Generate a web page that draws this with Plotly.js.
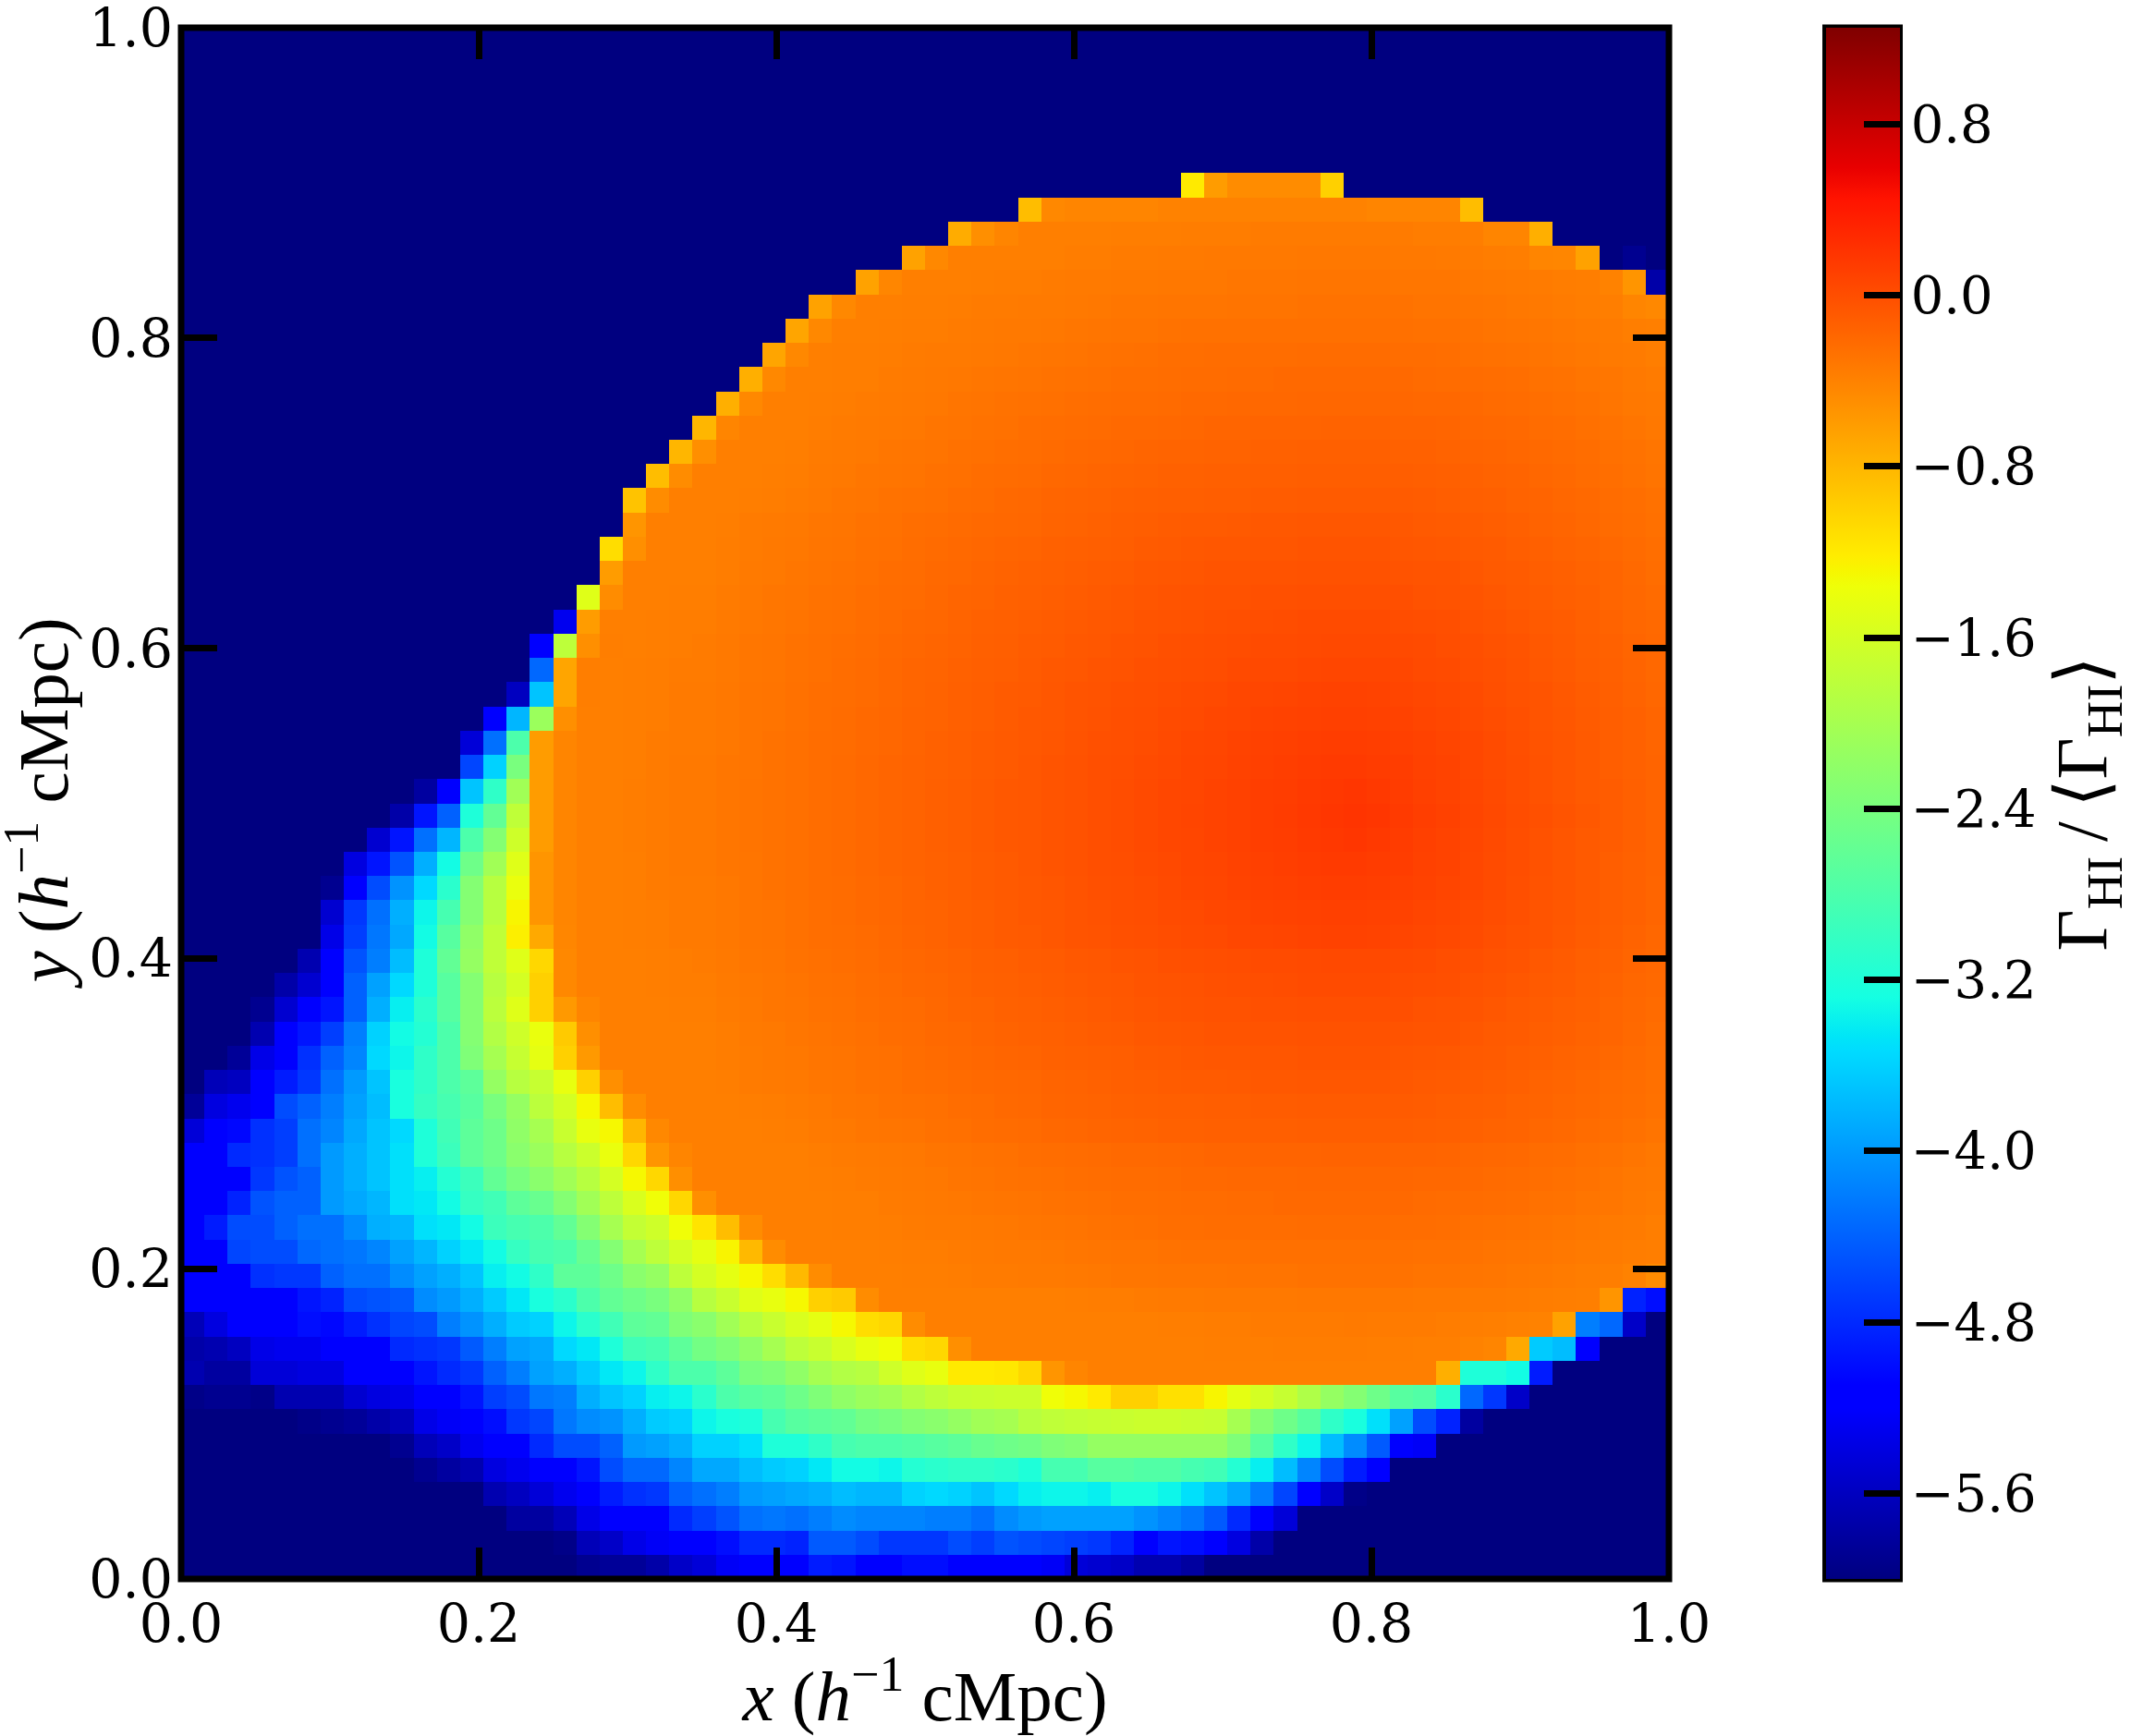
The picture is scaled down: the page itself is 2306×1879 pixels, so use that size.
<!DOCTYPE html>
<html><head><meta charset="utf-8">
<script src="https://cdn.plot.ly/plotly-3.0.1.min.js"></script>
<style>html,body{margin:0;padding:0;background:#fff}</style></head>
<body><div id="chart" style="width:2306px;height:1879px"></div>
<script>
// Gamma values per cell, top row first, left cell first. -6 marks the darkest blue background.
const rowsFromTop = [
[-6,-6,-6,-6,-6,-6,-6,-6,-6,-6,-6,-6,-6,-6,-6,-6,-6,-6,-6,-6,-6,-6,-6,-6,-6,-6,-6,-6,-6,-6,-6,-6,-6,-6,-6,-6,-6,-6,-6,-6,-6,-6,-6,-6,-6,-6,-6,-6,-6,-6,-6,-6,-6,-6,-6,-6,-6,-6,-6,-6,-6,-6,-6,-6],
[-6,-6,-6,-6,-6,-6,-6,-6,-6,-6,-6,-6,-6,-6,-6,-6,-6,-6,-6,-6,-6,-6,-6,-6,-6,-6,-6,-6,-6,-6,-6,-6,-6,-6,-6,-6,-6,-6,-6,-6,-6,-6,-6,-6,-6,-6,-6,-6,-6,-6,-6,-6,-6,-6,-6,-6,-6,-6,-6,-6,-6,-6,-6,-6],
[-6,-6,-6,-6,-6,-6,-6,-6,-6,-6,-6,-6,-6,-6,-6,-6,-6,-6,-6,-6,-6,-6,-6,-6,-6,-6,-6,-6,-6,-6,-6,-6,-6,-6,-6,-6,-6,-6,-6,-6,-6,-6,-6,-6,-6,-6,-6,-6,-6,-6,-6,-6,-6,-6,-6,-6,-6,-6,-6,-6,-6,-6,-6,-6],
[-6,-6,-6,-6,-6,-6,-6,-6,-6,-6,-6,-6,-6,-6,-6,-6,-6,-6,-6,-6,-6,-6,-6,-6,-6,-6,-6,-6,-6,-6,-6,-6,-6,-6,-6,-6,-6,-6,-6,-6,-6,-6,-6,-6,-6,-6,-6,-6,-6,-6,-6,-6,-6,-6,-6,-6,-6,-6,-6,-6,-6,-6,-6,-6],
[-6,-6,-6,-6,-6,-6,-6,-6,-6,-6,-6,-6,-6,-6,-6,-6,-6,-6,-6,-6,-6,-6,-6,-6,-6,-6,-6,-6,-6,-6,-6,-6,-6,-6,-6,-6,-6,-6,-6,-6,-6,-6,-6,-6,-6,-6,-6,-6,-6,-6,-6,-6,-6,-6,-6,-6,-6,-6,-6,-6,-6,-6,-6,-6],
[-6,-6,-6,-6,-6,-6,-6,-6,-6,-6,-6,-6,-6,-6,-6,-6,-6,-6,-6,-6,-6,-6,-6,-6,-6,-6,-6,-6,-6,-6,-6,-6,-6,-6,-6,-6,-6,-6,-6,-6,-6,-6,-6,-6,-6,-6,-6,-6,-6,-6,-6,-6,-6,-6,-6,-6,-6,-6,-6,-6,-6,-6,-6,-6],
[-6,-6,-6,-6,-6,-6,-6,-6,-6,-6,-6,-6,-6,-6,-6,-6,-6,-6,-6,-6,-6,-6,-6,-6,-6,-6,-6,-6,-6,-6,-6,-6,-6,-6,-6,-6,-6,-6,-6,-6,-6,-6,-6,-1.2,-.6,-.48,-.48,-.48,-.48,-1,-6,-6,-6,-6,-6,-6,-6,-6,-6,-6,-6,-6,-6,-6],
[-6,-6,-6,-6,-6,-6,-6,-6,-6,-6,-6,-6,-6,-6,-6,-6,-6,-6,-6,-6,-6,-6,-6,-6,-6,-6,-6,-6,-6,-6,-6,-6,-6,-6,-6,-6,-.85,-.45,-.42,-.42,-.42,-.42,-.4,-.4,-.4,-.4,-.4,-.4,-.4,-.4,-.4,-.42,-.42,-.42,-.42,-.85,-6,-6,-6,-6,-6,-6,-6,-6],
[-6,-6,-6,-6,-6,-6,-6,-6,-6,-6,-6,-6,-6,-6,-6,-6,-6,-6,-6,-6,-6,-6,-6,-6,-6,-6,-6,-6,-6,-6,-6,-6,-6,-.72,-.5,-.42,-.38,-.38,-.38,-.38,-.37,-.37,-.37,-.36,-.36,-.36,-.35,-.35,-.35,-.35,-.35,-.35,-.35,-.36,-.36,-.37,-.42,-.42,-.75,-6,-6,-6,-6,-6],
[-6,-6,-6,-6,-6,-6,-6,-6,-6,-6,-6,-6,-6,-6,-6,-6,-6,-6,-6,-6,-6,-6,-6,-6,-6,-6,-6,-6,-6,-6,-6,-.65,-.45,-.38,-.38,-.38,-.38,-.38,-.36,-.36,-.35,-.35,-.34,-.34,-.33,-.33,-.33,-.33,-.32,-.32,-.32,-.32,-.33,-.33,-.34,-.35,-.36,-.37,-.42,-.43,-.65,-6,-5.9,-6],
[-6,-6,-6,-6,-6,-6,-6,-6,-6,-6,-6,-6,-6,-6,-6,-6,-6,-6,-6,-6,-6,-6,-6,-6,-6,-6,-6,-6,-6,-.65,-.43,-.38,-.38,-.38,-.37,-.36,-.36,-.35,-.34,-.34,-.33,-.33,-.32,-.32,-.32,-.31,-.31,-.31,-.3,-.3,-.3,-.3,-.31,-.31,-.31,-.32,-.33,-.34,-.35,-.36,-.37,-.4,-.55,-5.75],
[-6,-6,-6,-6,-6,-6,-6,-6,-6,-6,-6,-6,-6,-6,-6,-6,-6,-6,-6,-6,-6,-6,-6,-6,-6,-6,-6,-.65,-.45,-.38,-.38,-.37,-.37,-.36,-.35,-.35,-.34,-.34,-.33,-.32,-.31,-.31,-.3,-.3,-.3,-.29,-.29,-.29,-.28,-.28,-.28,-.28,-.28,-.29,-.29,-.3,-.31,-.32,-.33,-.35,-.36,-.37,-.42,-.45],
[-6,-6,-6,-6,-6,-6,-6,-6,-6,-6,-6,-6,-6,-6,-6,-6,-6,-6,-6,-6,-6,-6,-6,-6,-6,-6,-.67,-.45,-.38,-.38,-.37,-.36,-.36,-.35,-.34,-.33,-.33,-.32,-.31,-.3,-.29,-.29,-.28,-.27,-.27,-.27,-.26,-.26,-.26,-.26,-.26,-.26,-.26,-.27,-.27,-.28,-.29,-.3,-.31,-.32,-.34,-.35,-.37,-.38],
[-6,-6,-6,-6,-6,-6,-6,-6,-6,-6,-6,-6,-6,-6,-6,-6,-6,-6,-6,-6,-6,-6,-6,-6,-6,-.67,-.45,-.38,-.37,-.37,-.36,-.35,-.34,-.34,-.33,-.32,-.31,-.3,-.29,-.28,-.27,-.26,-.25,-.25,-.24,-.24,-.24,-.24,-.23,-.23,-.23,-.23,-.24,-.24,-.25,-.26,-.27,-.28,-.29,-.31,-.32,-.34,-.35,-.37],
[-6,-6,-6,-6,-6,-6,-6,-6,-6,-6,-6,-6,-6,-6,-6,-6,-6,-6,-6,-6,-6,-6,-6,-6,-.75,-.45,-.38,-.38,-.37,-.37,-.35,-.34,-.33,-.32,-.31,-.3,-.29,-.28,-.27,-.26,-.25,-.25,-.24,-.23,-.23,-.22,-.22,-.21,-.21,-.21,-.21,-.21,-.21,-.22,-.23,-.23,-.24,-.25,-.27,-.28,-.3,-.31,-.33,-.35],
[-6,-6,-6,-6,-6,-6,-6,-6,-6,-6,-6,-6,-6,-6,-6,-6,-6,-6,-6,-6,-6,-6,-6,-.75,-.45,-.38,-.38,-.37,-.36,-.35,-.34,-.33,-.32,-.3,-.29,-.28,-.27,-.26,-.25,-.24,-.23,-.23,-.22,-.21,-.21,-.2,-.2,-.2,-.19,-.19,-.19,-.19,-.19,-.2,-.2,-.21,-.22,-.23,-.25,-.26,-.28,-.3,-.32,-.33],
[-6,-6,-6,-6,-6,-6,-6,-6,-6,-6,-6,-6,-6,-6,-6,-6,-6,-6,-6,-6,-6,-6,-.8,-.42,-.38,-.38,-.38,-.36,-.35,-.34,-.33,-.32,-.3,-.29,-.28,-.27,-.25,-.24,-.23,-.22,-.21,-.21,-.2,-.19,-.18,-.18,-.17,-.17,-.17,-.16,-.16,-.16,-.17,-.17,-.18,-.19,-.2,-.21,-.23,-.24,-.26,-.28,-.3,-.32],
[-6,-6,-6,-6,-6,-6,-6,-6,-6,-6,-6,-6,-6,-6,-6,-6,-6,-6,-6,-6,-6,-.8,-.5,-.38,-.38,-.38,-.37,-.35,-.34,-.33,-.31,-.3,-.29,-.27,-.26,-.25,-.24,-.22,-.21,-.2,-.19,-.18,-.17,-.17,-.16,-.16,-.15,-.15,-.14,-.14,-.14,-.14,-.15,-.15,-.16,-.17,-.18,-.19,-.21,-.22,-.24,-.26,-.28,-.3],
[-6,-6,-6,-6,-6,-6,-6,-6,-6,-6,-6,-6,-6,-6,-6,-6,-6,-6,-6,-6,-.85,-.48,-.38,-.38,-.38,-.37,-.36,-.34,-.33,-.31,-.3,-.29,-.27,-.26,-.24,-.23,-.22,-.2,-.19,-.18,-.17,-.16,-.15,-.15,-.14,-.14,-.13,-.13,-.12,-.12,-.12,-.12,-.12,-.13,-.14,-.15,-.16,-.17,-.19,-.21,-.23,-.25,-.27,-.29],
[-6,-6,-6,-6,-6,-6,-6,-6,-6,-6,-6,-6,-6,-6,-6,-6,-6,-6,-6,-.9,-.48,-.38,-.38,-.38,-.37,-.36,-.35,-.33,-.31,-.3,-.28,-.27,-.26,-.24,-.23,-.21,-.2,-.18,-.17,-.16,-.15,-.14,-.13,-.13,-.12,-.12,-.11,-.11,-.1,-.1,-.1,-.1,-.1,-.11,-.12,-.13,-.14,-.16,-.17,-.19,-.21,-.23,-.25,-.27],
[-6,-6,-6,-6,-6,-6,-6,-6,-6,-6,-6,-6,-6,-6,-6,-6,-6,-6,-6,-.55,-.38,-.38,-.38,-.37,-.35,-.34,-.33,-.31,-.3,-.28,-.27,-.25,-.24,-.22,-.21,-.2,-.19,-.17,-.16,-.15,-.13,-.12,-.11,-.1,-.1,-.09,-.08,-.08,-.07,-.07,-.07,-.07,-.08,-.09,-.1,-.11,-.12,-.14,-.16,-.18,-.2,-.22,-.24,-.26],
[-6,-6,-6,-6,-6,-6,-6,-6,-6,-6,-6,-6,-6,-6,-6,-6,-6,-6,-1.1,-.5,-.38,-.38,-.38,-.36,-.35,-.33,-.32,-.3,-.29,-.27,-.26,-.24,-.22,-.21,-.19,-.18,-.17,-.15,-.14,-.13,-.12,-.1,-.09,-.08,-.07,-.07,-.06,-.06,-.05,-.05,-.05,-.05,-.06,-.07,-.08,-.09,-.1,-.12,-.14,-.16,-.18,-.2,-.22,-.25],
[-6,-6,-6,-6,-6,-6,-6,-6,-6,-6,-6,-6,-6,-6,-6,-6,-6,-6,-.6,-.38,-.38,-.38,-.38,-.36,-.34,-.33,-.31,-.29,-.28,-.26,-.24,-.23,-.21,-.2,-.18,-.16,-.15,-.14,-.12,-.11,-.1,-.08,-.07,-.06,-.05,-.05,-.04,-.04,-.03,-.03,-.03,-.03,-.04,-.05,-.05,-.07,-.09,-.1,-.12,-.14,-.16,-.18,-.21,-.24],
[-6,-6,-6,-6,-6,-6,-6,-6,-6,-6,-6,-6,-6,-6,-6,-6,-6,-1.5,-.48,-.38,-.38,-.37,-.37,-.35,-.33,-.31,-.3,-.28,-.27,-.25,-.23,-.22,-.2,-.18,-.17,-.15,-.14,-.12,-.11,-.09,-.08,-.06,-.05,-.04,-.03,-.03,-.02,-.02,-.01,-.01,-.01,-.01,-.01,-.03,-.04,-.05,-.07,-.09,-.11,-.13,-.15,-.18,-.2,-.22],
[-6,-6,-6,-6,-6,-6,-6,-6,-6,-6,-6,-6,-6,-6,-6,-6,-5.3,-.6,-.38,-.38,-.37,-.36,-.36,-.34,-.32,-.31,-.29,-.27,-.26,-.24,-.22,-.2,-.19,-.17,-.15,-.14,-.12,-.11,-.09,-.08,-.07,-.05,-.04,-.03,-.02,-.01,0,.01,.02,.02,.02,.02,.01,0,-.01,-.03,-.05,-.07,-.09,-.11,-.14,-.16,-.19,-.21],
[-6,-6,-6,-6,-6,-6,-6,-6,-6,-6,-6,-6,-6,-6,-6,-5.1,-1.8,-.5,-.37,-.38,-.37,-.36,-.35,-.33,-.31,-.3,-.28,-.26,-.25,-.23,-.21,-.19,-.18,-.16,-.14,-.13,-.11,-.1,-.08,-.07,-.05,-.04,-.02,-.01,0,.01,.02,.02,.03,.04,.04,.04,.03,.02,0,-.01,-.03,-.05,-.08,-.1,-.13,-.15,-.18,-.2],
[-6,-6,-6,-6,-6,-6,-6,-6,-6,-6,-6,-6,-6,-6,-6,-4.35,-.67,-.37,-.38,-.37,-.36,-.35,-.35,-.33,-.31,-.3,-.28,-.26,-.24,-.22,-.2,-.18,-.17,-.15,-.13,-.12,-.1,-.08,-.07,-.05,-.04,-.02,-.01,0,.01,.03,.04,.04,.05,.06,.06,.06,.05,.03,.02,0,-.02,-.04,-.07,-.09,-.12,-.14,-.17,-.2],
[-6,-6,-6,-6,-6,-6,-6,-6,-6,-6,-6,-6,-6,-6,-5.6,-3.7,-.67,-.37,-.38,-.37,-.36,-.34,-.34,-.32,-.3,-.29,-.27,-.25,-.24,-.22,-.2,-.18,-.16,-.14,-.12,-.1,-.09,-.07,-.05,-.04,-.02,-.01,.01,.02,.03,.05,.06,.07,.08,.09,.09,.08,.07,.05,.04,.02,-.01,-.03,-.05,-.08,-.11,-.13,-.16,-.19],
[-6,-6,-6,-6,-6,-6,-6,-6,-6,-6,-6,-6,-6,-5.2,-3.8,-2.1,-.5,-.38,-.38,-.37,-.36,-.34,-.34,-.32,-.3,-.29,-.27,-.25,-.23,-.21,-.19,-.17,-.16,-.14,-.12,-.1,-.08,-.07,-.05,-.03,-.01,0,.02,.03,.05,.06,.08,.09,.1,.11,.11,.1,.09,.07,.05,.03,.01,-.02,-.05,-.07,-.1,-.12,-.15,-.18],
[-6,-6,-6,-6,-6,-6,-6,-6,-6,-6,-6,-6,-5.45,-4.3,-2.8,-.6,-.42,-.38,-.38,-.37,-.35,-.34,-.34,-.32,-.3,-.28,-.26,-.24,-.23,-.21,-.19,-.17,-.15,-.13,-.11,-.09,-.08,-.06,-.04,-.02,-.01,.01,.03,.05,.06,.08,.1,.11,.12,.13,.13,.12,.11,.09,.07,.05,.02,-.01,-.04,-.06,-.09,-.12,-.15,-.18],
[-6,-6,-6,-6,-6,-6,-6,-6,-6,-6,-6,-6,-4.6,-3.6,-2.4,-.6,-.42,-.38,-.38,-.37,-.35,-.33,-.33,-.31,-.3,-.28,-.26,-.24,-.22,-.2,-.18,-.16,-.15,-.13,-.11,-.09,-.07,-.05,-.03,-.01,0,.02,.04,.06,.07,.09,.11,.12,.14,.15,.15,.14,.13,.1,.08,.05,.02,0,-.03,-.06,-.09,-.12,-.15,-.17],
[-6,-6,-6,-6,-6,-6,-6,-6,-6,-6,-5.8,-5.1,-3.7,-3.05,-2.05,-.6,-.42,-.38,-.38,-.36,-.35,-.33,-.33,-.31,-.29,-.28,-.26,-.24,-.22,-.2,-.18,-.16,-.14,-.12,-.1,-.08,-.07,-.05,-.03,-.01,.01,.03,.05,.06,.08,.1,.12,.13,.15,.17,.18,.16,.14,.11,.08,.06,.03,0,-.03,-.06,-.09,-.11,-.14,-.17],
[-6,-6,-6,-6,-6,-6,-6,-6,-6,-5.75,-4.95,-4.4,-3.2,-2.6,-1.78,-.6,-.42,-.38,-.38,-.36,-.35,-.33,-.33,-.31,-.29,-.28,-.26,-.24,-.22,-.2,-.18,-.16,-.14,-.12,-.1,-.08,-.07,-.05,-.03,-.01,.01,.03,.05,.07,.08,.1,.12,.14,.16,.18,.2,.18,.15,.12,.1,.07,.04,.01,-.02,-.05,-.08,-.11,-.14,-.17],
[-6,-6,-6,-6,-6,-6,-6,-6,-5.5,-4.95,-4.3,-3.8,-2.8,-2.3,-1.65,-.6,-.42,-.38,-.38,-.36,-.35,-.33,-.33,-.31,-.29,-.28,-.26,-.24,-.22,-.2,-.18,-.16,-.14,-.12,-.1,-.08,-.07,-.05,-.03,-.01,.01,.03,.05,.06,.08,.1,.12,.13,.15,.17,.18,.16,.14,.11,.08,.06,.03,0,-.03,-.06,-.09,-.11,-.14,-.17],
[-6,-6,-6,-6,-6,-6,-6,-5.4,-4.95,-4.5,-3.85,-3.3,-2.5,-2.05,-1.5,-.55,-.42,-.38,-.38,-.37,-.35,-.33,-.33,-.31,-.3,-.28,-.26,-.24,-.22,-.2,-.18,-.16,-.15,-.13,-.11,-.09,-.07,-.05,-.03,-.01,0,.02,.04,.06,.07,.09,.11,.12,.14,.15,.15,.14,.13,.1,.08,.05,.02,0,-.03,-.06,-.09,-.12,-.15,-.17],
[-6,-6,-6,-6,-6,-6,-5.9,-5.1,-4.55,-4.05,-3.55,-3.1,-2.3,-1.85,-1.4,-.55,-.42,-.38,-.38,-.37,-.35,-.34,-.34,-.32,-.3,-.28,-.26,-.24,-.23,-.21,-.19,-.17,-.15,-.13,-.11,-.09,-.08,-.06,-.04,-.02,-.01,.01,.03,.05,.06,.08,.1,.11,.12,.13,.13,.12,.11,.09,.07,.05,.02,-.01,-.04,-.06,-.09,-.12,-.15,-.18],
[-6,-6,-6,-6,-6,-6,-5.5,-4.7,-4.3,-3.85,-3.35,-2.85,-2.3,-1.85,-1.28,-.55,-.42,-.38,-.38,-.37,-.36,-.34,-.34,-.32,-.3,-.29,-.27,-.25,-.23,-.21,-.19,-.17,-.16,-.14,-.12,-.1,-.08,-.07,-.05,-.03,-.01,0,.02,.03,.05,.06,.08,.09,.1,.11,.11,.1,.09,.07,.05,.03,.01,-.02,-.05,-.07,-.1,-.12,-.15,-.18],
[-6,-6,-6,-6,-6,-6,-5.35,-4.65,-4.25,-3.9,-3.3,-2.7,-2.2,-1.78,-1.24,-.7,-.43,-.38,-.38,-.37,-.36,-.34,-.34,-.32,-.3,-.29,-.27,-.25,-.24,-.22,-.2,-.18,-.16,-.14,-.12,-.1,-.09,-.07,-.05,-.04,-.02,-.01,.01,.02,.03,.05,.06,.07,.08,.09,.09,.08,.07,.05,.04,.02,-.01,-.03,-.05,-.08,-.11,-.13,-.16,-.19],
[-6,-6,-6,-6,-6,-5.7,-5.1,-4.5,-4.2,-3.75,-3.2,-2.6,-2.15,-1.78,-1.5,-1.05,-.45,-.38,-.38,-.38,-.37,-.36,-.35,-.33,-.31,-.3,-.28,-.26,-.25,-.23,-.21,-.19,-.18,-.16,-.14,-.13,-.11,-.1,-.08,-.07,-.05,-.04,-.02,-.01,0,.01,.02,.02,.03,.04,.04,.04,.03,.02,0,-.01,-.03,-.05,-.08,-.1,-.13,-.15,-.18,-.2],
[-6,-6,-6,-6,-5.75,-5.5,-5.1,-4.4,-3.95,-3.55,-3.2,-2.7,-2.3,-1.85,-1.6,-1,-.45,-.38,-.38,-.38,-.37,-.36,-.36,-.34,-.32,-.31,-.29,-.27,-.26,-.24,-.22,-.2,-.19,-.17,-.15,-.14,-.12,-.11,-.09,-.08,-.07,-.05,-.04,-.03,-.02,-.01,0,.01,.02,.02,.02,.02,.01,0,-.01,-.03,-.05,-.07,-.09,-.11,-.14,-.16,-.19,-.21],
[-6,-6,-6,-5.9,-5.5,-5.1,-4.95,-4.4,-3.85,-3.4,-3.1,-2.7,-2.3,-1.82,-1.5,-1,-.58,-.42,-.38,-.38,-.38,-.37,-.37,-.35,-.33,-.31,-.3,-.28,-.27,-.25,-.23,-.22,-.2,-.18,-.17,-.15,-.14,-.12,-.11,-.09,-.08,-.06,-.05,-.04,-.03,-.03,-.02,-.02,-.01,-.01,-.01,-.01,-.01,-.03,-.04,-.05,-.07,-.09,-.11,-.13,-.15,-.18,-.2,-.22],
[-6,-6,-6,-5.7,-5.2,-4.95,-4.65,-4.2,-3.6,-3.3,-3.15,-2.8,-2.3,-1.9,-1.65,-1.4,-.95,-.5,-.38,-.38,-.38,-.38,-.38,-.36,-.34,-.33,-.31,-.29,-.28,-.26,-.24,-.23,-.21,-.2,-.18,-.16,-.15,-.14,-.12,-.11,-.1,-.08,-.07,-.06,-.05,-.05,-.04,-.04,-.03,-.03,-.03,-.03,-.04,-.05,-.05,-.07,-.09,-.1,-.12,-.14,-.16,-.18,-.21,-.24],
[-6,-6,-5.85,-5.35,-5.1,-4.75,-4.4,-4.15,-3.55,-3.35,-3.05,-2.8,-2.35,-2,-1.72,-1.45,-1,-.58,-.38,-.38,-.38,-.38,-.38,-.36,-.35,-.33,-.32,-.3,-.29,-.27,-.26,-.24,-.22,-.21,-.19,-.18,-.17,-.15,-.14,-.13,-.12,-.1,-.09,-.08,-.07,-.07,-.06,-.06,-.05,-.05,-.05,-.05,-.06,-.07,-.08,-.09,-.1,-.12,-.14,-.16,-.18,-.2,-.22,-.25],
[-6,-5.65,-5.6,-5.2,-4.9,-4.7,-4.3,-4,-3.7,-3.25,-3.05,-2.8,-2.65,-2.15,-1.85,-1.72,-1.42,-1,-.5,-.38,-.38,-.38,-.38,-.37,-.35,-.34,-.33,-.31,-.3,-.28,-.27,-.25,-.24,-.22,-.21,-.2,-.19,-.17,-.16,-.15,-.13,-.12,-.11,-.1,-.1,-.09,-.08,-.08,-.07,-.07,-.07,-.07,-.08,-.09,-.1,-.11,-.12,-.14,-.16,-.18,-.2,-.22,-.24,-.26],
[-5.85,-5.4,-5.3,-5.1,-4.55,-4.4,-4.2,-3.95,-3.75,-3.25,-3,-2.85,-2.7,-2.4,-2.15,-1.82,-1.6,-1.3,-.85,-.48,-.38,-.38,-.38,-.38,-.37,-.36,-.35,-.33,-.31,-.3,-.28,-.27,-.26,-.24,-.23,-.21,-.2,-.18,-.17,-.16,-.15,-.14,-.13,-.13,-.12,-.12,-.11,-.11,-.1,-.1,-.1,-.1,-.1,-.11,-.12,-.13,-.14,-.16,-.17,-.19,-.21,-.23,-.25,-.27],
[-5.45,-5.15,-5.05,-4.75,-4.65,-4.3,-4.15,-3.9,-3.7,-3.55,-3.2,-2.9,-2.65,-2.5,-2.2,-2,-1.7,-1.42,-1.3,-.8,-.45,-.38,-.38,-.38,-.38,-.37,-.36,-.34,-.33,-.31,-.3,-.29,-.27,-.26,-.24,-.23,-.22,-.2,-.19,-.18,-.17,-.16,-.15,-.15,-.14,-.14,-.13,-.13,-.12,-.12,-.12,-.12,-.12,-.13,-.14,-.15,-.16,-.17,-.19,-.21,-.23,-.25,-.27,-.29],
[-5.2,-5.1,-4.8,-4.75,-4.65,-4.3,-4,-3.85,-3.7,-3.5,-3.2,-2.95,-2.65,-2.5,-2.25,-2.1,-1.85,-1.68,-1.4,-1.05,-.55,-.42,-.38,-.38,-.38,-.38,-.38,-.36,-.35,-.34,-.33,-.32,-.3,-.29,-.28,-.27,-.25,-.24,-.23,-.22,-.21,-.21,-.2,-.19,-.18,-.18,-.17,-.17,-.17,-.16,-.16,-.16,-.17,-.17,-.18,-.19,-.2,-.21,-.23,-.24,-.26,-.28,-.3,-.32],
[-5.1,-5.1,-5.1,-4.7,-4.5,-4.4,-4,-3.85,-3.7,-3.5,-3.4,-3.15,-2.95,-2.6,-2.4,-2.25,-2.05,-1.85,-1.6,-1.3,-1.05,-.5,-.38,-.38,-.38,-.38,-.38,-.37,-.36,-.35,-.34,-.33,-.32,-.3,-.29,-.28,-.27,-.26,-.25,-.24,-.23,-.23,-.22,-.21,-.21,-.2,-.2,-.2,-.19,-.19,-.19,-.19,-.19,-.2,-.2,-.21,-.22,-.23,-.25,-.26,-.28,-.3,-.32,-.33],
[-5.1,-5.1,-4.85,-4.5,-4.4,-4.4,-4,-3.9,-3.8,-3.5,-3.45,-3.3,-3,-2.9,-2.65,-2.55,-2.3,-2.05,-1.8,-1.55,-1.35,-1.05,-.5,-.38,-.38,-.38,-.38,-.38,-.37,-.37,-.35,-.34,-.33,-.32,-.31,-.3,-.29,-.28,-.27,-.26,-.25,-.25,-.24,-.23,-.23,-.22,-.22,-.21,-.21,-.21,-.21,-.21,-.21,-.22,-.23,-.23,-.24,-.25,-.27,-.28,-.3,-.31,-.33,-.35],
[-5.1,-4.9,-4.55,-4.55,-4.4,-4.3,-4.3,-4.1,-3.85,-3.8,-3.5,-3.45,-3.3,-2.95,-2.85,-2.8,-2.6,-2.3,-2,-1.75,-1.65,-1.35,-1.15,-.85,-.48,-.38,-.38,-.38,-.37,-.37,-.36,-.35,-.34,-.34,-.33,-.32,-.31,-.3,-.29,-.28,-.27,-.26,-.25,-.25,-.24,-.24,-.24,-.24,-.23,-.23,-.23,-.23,-.24,-.24,-.25,-.26,-.27,-.28,-.29,-.31,-.32,-.34,-.35,-.37],
[-5.1,-5.1,-4.6,-4.55,-4.55,-4.35,-4.3,-4.25,-4.15,-3.95,-3.8,-3.6,-3.45,-3.3,-3,-2.85,-2.8,-2.55,-2.3,-2,-1.8,-1.6,-1.45,-1.27,-.82,-.48,-.38,-.38,-.38,-.38,-.37,-.36,-.36,-.35,-.34,-.33,-.33,-.32,-.31,-.3,-.29,-.29,-.28,-.27,-.27,-.27,-.26,-.26,-.26,-.26,-.26,-.26,-.26,-.27,-.27,-.28,-.29,-.3,-.31,-.32,-.34,-.35,-.36,-.37],
[-5.1,-5.1,-5.1,-4.75,-4.7,-4.7,-4.4,-4.3,-4.3,-4.1,-3.95,-3.85,-3.7,-3.4,-3.3,-3.05,-2.65,-2.65,-2.5,-2.25,-2.15,-1.8,-1.6,-1.45,-1.3,-1.1,-.82,-.48,-.38,-.38,-.38,-.37,-.37,-.36,-.35,-.35,-.34,-.34,-.33,-.32,-.31,-.31,-.3,-.3,-.3,-.29,-.29,-.29,-.28,-.28,-.28,-.28,-.28,-.29,-.29,-.3,-.31,-.32,-.33,-.35,-.36,-.37,-.4,-.48],
[-5.1,-5.1,-5.1,-5.1,-5.1,-4.95,-4.85,-4.55,-4.5,-4.45,-4.1,-4,-3.85,-3.65,-3.45,-3.25,-3.1,-2.8,-2.6,-2.5,-2.4,-2.2,-1.85,-1.7,-1.5,-1.42,-1.3,-1,-.95,-.48,-.38,-.38,-.38,-.38,-.38,-.38,-.38,-.38,-.37,-.36,-.36,-.35,-.34,-.34,-.33,-.33,-.33,-.33,-.32,-.32,-.32,-.32,-.32,-.33,-.33,-.34,-.34,-.35,-.36,-.37,-.38,-.55,-4.85,-5],
[-5.65,-5.4,-5.2,-5.15,-5.1,-5,-5.05,-4.9,-4.75,-4.6,-4.55,-4.2,-4.05,-3.85,-3.65,-3.6,-3.35,-3.1,-2.9,-2.65,-2.6,-2.35,-2.25,-2.05,-1.85,-1.7,-1.55,-1.45,-1.3,-1.1,-1.05,-.48,-.38,-.38,-.38,-.38,-.38,-.38,-.38,-.38,-.38,-.38,-.37,-.37,-.36,-.36,-.35,-.35,-.35,-.35,-.34,-.35,-.35,-.35,-.36,-.37,-.38,-.39,-.4,-.65,-4.2,-4.35,-5.55,-6],
[-5.75,-5.7,-5.6,-5.35,-5.3,-5.3,-5.1,-5.1,-5.1,-4.8,-4.75,-4.7,-4.45,-4.2,-3.95,-3.9,-3.55,-3.45,-3.2,-2.9,-2.85,-2.65,-2.45,-2.35,-2.2,-2,-1.8,-1.7,-1.55,-1.42,-1.35,-1.1,-1.05,-.5,-.38,-.38,-.38,-.38,-.38,-.38,-.38,-.38,-.38,-.38,-.37,-.37,-.37,-.36,-.36,-.36,-.36,-.37,-.37,-.38,-.38,-.4,-.42,-.7,-3.65,-3.75,-5.15,-6,-6,-6],
[-5.7,-5.8,-5.8,-5.45,-5.45,-5.4,-5.4,-5.1,-5.1,-5.1,-4.95,-4.8,-4.7,-4.4,-4.2,-3.95,-3.85,-3.65,-3.45,-3.35,-3.05,-2.8,-2.8,-2.65,-2.4,-2.35,-2.2,-2,-1.9,-1.85,-1.65,-1.5,-1.42,-1.2,-1.2,-1.18,-1.05,-.55,-.42,-.38,-.38,-.38,-.38,-.38,-.38,-.38,-.38,-.38,-.38,-.38,-.38,-.38,-.38,-.38,-.75,-3.2,-3.2,-3.3,-4.9,-6,-6,-6,-6,-6],
[-5.95,-5.9,-5.9,-5.95,-5.7,-5.7,-5.7,-5.5,-5.4,-5.35,-5.15,-5.1,-4.95,-4.65,-4.55,-4.25,-4.2,-3.85,-3.7,-3.6,-3.4,-3.35,-3.1,-2.8,-2.7,-2.65,-2.5,-2.35,-2.2,-2.1,-2.05,-1.9,-1.8,-1.72,-1.7,-1.68,-1.68,-1.35,-1.3,-1.2,-1,-1,-1.12,-1.12,-1.28,-1.45,-1.6,-1.72,-1.92,-2.15,-2.3,-2.5,-2.7,-2.75,-3.1,-4.35,-4.7,-5.55,-6,-6,-6,-6,-6,-6],
[-6,-6,-6,-6,-6,-5.95,-5.9,-5.85,-5.75,-5.65,-5.35,-5.25,-5.1,-5,-4.7,-4.6,-4.25,-4.1,-4.05,-3.85,-3.65,-3.6,-3.35,-3.25,-3.2,-2.85,-2.7,-2.65,-2.6,-2.45,-2.4,-2.3,-2.25,-2.15,-2.05,-2,-1.85,-1.78,-1.75,-1.72,-1.7,-1.68,-1.68,-1.7,-1.72,-2,-2.3,-2.5,-2.7,-3.05,-3.25,-3.5,-3.95,-4.55,-4.85,-5.8,-6,-6,-6,-6,-6,-6,-6,-6],
[-6,-6,-6,-6,-6,-6,-6,-6,-6,-5.9,-5.65,-5.55,-5.3,-5.15,-5.1,-4.8,-4.55,-4.55,-4.4,-4,-3.95,-3.85,-3.6,-3.6,-3.5,-3.2,-3.2,-3.05,-2.85,-2.8,-2.8,-2.75,-2.7,-2.65,-2.55,-2.5,-2.45,-2.35,-2.3,-2.15,-2.15,-2.15,-2.15,-2.15,-2.15,-2.35,-2.7,-3.05,-3.35,-3.75,-4.1,-4.45,-5.15,-5.25,-6,-6,-6,-6,-6,-6,-6,-6,-6,-6],
[-6,-6,-6,-6,-6,-6,-6,-6,-6,-6,-5.9,-5.8,-5.7,-5.4,-5.3,-5.15,-5.1,-4.95,-4.55,-4.35,-4.35,-4.15,-3.9,-3.9,-3.75,-3.65,-3.6,-3.45,-3.3,-3.3,-3.35,-3.15,-3.1,-3.05,-3.05,-3.1,-3.2,-2.85,-2.85,-2.7,-2.7,-2.75,-2.75,-2.85,-2.9,-3.15,-3.4,-3.75,-4.15,-4.55,-4.9,-5.2,-6,-6,-6,-6,-6,-6,-6,-6,-6,-6,-6,-6],
[-6,-6,-6,-6,-6,-6,-6,-6,-6,-6,-6,-6,-6,-5.7,-5.6,-5.45,-5.3,-5.1,-4.9,-4.75,-4.7,-4.4,-4.3,-4.2,-4,-3.95,-3.9,-3.85,-3.75,-3.8,-3.8,-3.6,-3.55,-3.6,-3.7,-3.55,-3.4,-3.35,-3.35,-3.4,-3.25,-3.25,-3.35,-3.5,-3.7,-3.9,-4.2,-4.6,-5.15,-5.55,-5.95,-6,-6,-6,-6,-6,-6,-6,-6,-6,-6,-6,-6,-6],
[-6,-6,-6,-6,-6,-6,-6,-6,-6,-6,-6,-6,-6,-6,-5.8,-5.8,-5.65,-5.35,-5.2,-5.1,-5.1,-4.8,-4.65,-4.5,-4.3,-4.25,-4.3,-4.2,-4.1,-4.15,-4.15,-4.15,-4.2,-4.2,-4.3,-4.1,-4,-3.95,-3.95,-3.95,-3.95,-4.05,-4.15,-4.25,-4.45,-4.8,-5.15,-5.45,-6,-6,-6,-6,-6,-6,-6,-6,-6,-6,-6,-6,-6,-6,-6,-6],
[-6,-6,-6,-6,-6,-6,-6,-6,-6,-6,-6,-6,-6,-6,-6,-6,-5.95,-5.65,-5.55,-5.35,-5.25,-5.1,-5.1,-5,-4.8,-4.8,-4.85,-4.45,-4.45,-4.55,-4.7,-4.7,-4.7,-4.55,-4.65,-4.5,-4.55,-4.6,-4.65,-4.7,-4.85,-5.1,-4.95,-5,-5.15,-5.4,-5.75,-6,-6,-6,-6,-6,-6,-6,-6,-6,-6,-6,-6,-6,-6,-6,-6,-6],
[-6,-6,-6,-6,-6,-6,-6,-6,-6,-6,-6,-6,-6,-6,-6,-6,-6,-5.9,-5.85,-5.85,-5.75,-5.55,-5.45,-5.25,-5.15,-5.1,-5.1,-4.9,-4.95,-5.1,-5.1,-5,-5,-5.1,-5.1,-5.1,-5.15,-5.25,-5.45,-5.5,-5.55,-5.7,-5.7,-5.8,-6,-6,-6,-6,-6,-6,-6,-6,-6,-6,-6,-6,-6,-6,-6,-6,-6,-6,-6,-6]
];
const axisTicks = [0, 0.2, 0.4, 0.6, 0.8, 1];
const colorbarTicks = [0.8, 0, -0.8, -1.6, -2.4, -3.2, -4, -4.8, -5.6];
const valueMin = -6, valueMax = 1.25;
const jet = [[0,'rgb(0,0,128)'],[0.11,'rgb(0,0,255)'],[0.125,'rgb(0,0,255)'],[0.34,'rgb(0,219,255)'],[0.35,'rgb(0,230,247)'],[0.375,'rgb(21,255,226)'],[0.64,'rgb(239,255,8)'],[0.65,'rgb(247,246,0)'],[0.66,'rgb(255,236,0)'],[0.89,'rgb(255,19,0)'],[0.91,'rgb(232,0,0)'],[1,'rgb(128,0,0)']];
const serif = '"DejaVu Serif", serif';
const mathFont = '"Liberation Serif", "DejaVu Serif", serif';

const trace = {
  type:'heatmap', z: rowsFromTop.slice().reverse(),
  x0: 0.5/64, dx: 1/64, y0: 0.5/64, dy: 1/64,
  zmin: valueMin, zmax: valueMax, colorscale: jet, zsmooth:false, hoverinfo:'skip',
  colorbar:{
    thicknessmode:'pixels', thickness:80, lenmode:'fraction', len:1,
    x:1.1053, xanchor:'left', xpad:0, y:0.5, yanchor:'middle', ypad:0,
    outlinewidth:0, borderwidth:0,
    tickmode:'array', tickvals:colorbarTicks, tickformat:'.1f',
    ticks:'inside', ticklen:39, tickwidth:7, tickcolor:'#000',
    tickfont:{family:serif,size:56,color:'#000'}
  }
};
const axisBase = {range:[0,1], tickmode:'array', tickvals:axisTicks, tickformat:'.1f', ticks:'inside',
  tickwidth:7, tickcolor:'#000', mirror:'ticks', showline:false, showgrid:false, zeroline:false,
  ticklabeloverflow:'allow',
  tickfont:{family:serif,size:57,color:'#000'}};
const layout = {
  width:2306, height:1879, autosize:false, paper_bgcolor:'#fff', plot_bgcolor:'#fff',
  margin:{l:195.5, r:500, t:29.5, b:169.5, pad:0}, showlegend:false,
  xaxis:Object.assign({},axisBase,{ticklen:34, ticklabelstandoff:10,
    title:{text:'<i>x</i> (<i>h</i><sup>−1</sup> cMpc)', font:{family:mathFont,size:77,color:'#000'}, standoff:8}}),
  yaxis:Object.assign({},axisBase,{ticklen:39, ticklabelstandoff:8}),
  shapes:[
    {type:'rect', xref:'paper', yref:'paper', x0:0, x1:1, y0:0, y1:1, layer:'above', line:{color:'#000', width:7}, fillcolor:'rgba(0,0,0,0)'},
    {type:'rect', xref:'paper', yref:'paper', x0:1.1053, x1:1.15497, y0:0, y1:1, layer:'above', line:{color:'#000', width:7}, fillcolor:'rgba(0,0,0,0)'}
  ],
  annotations:[
    {text:'<i>y</i> (<i>h</i><sup>−1</sup> cMpc)', xref:'paper', yref:'paper', x:-0.0962, y:0.5, xanchor:'center', yanchor:'middle',
     textangle:-90, showarrow:false, font:{family:mathFont,size:77,color:'#000'}},
    {text:'Γ<sub>HI</sub>\u2009/\u2009⟨Γ<sub>HI</sub>⟩', xref:'paper', yref:'paper', x:1.2807, y:0.5, xanchor:'center', yanchor:'middle',
     textangle:-90, showarrow:false, font:{family:mathFont,size:78,color:'#000'}}
  ]
};
Plotly.newPlot('chart',[trace],layout,{displayModeBar:false,staticPlot:true});
</script></body></html>
